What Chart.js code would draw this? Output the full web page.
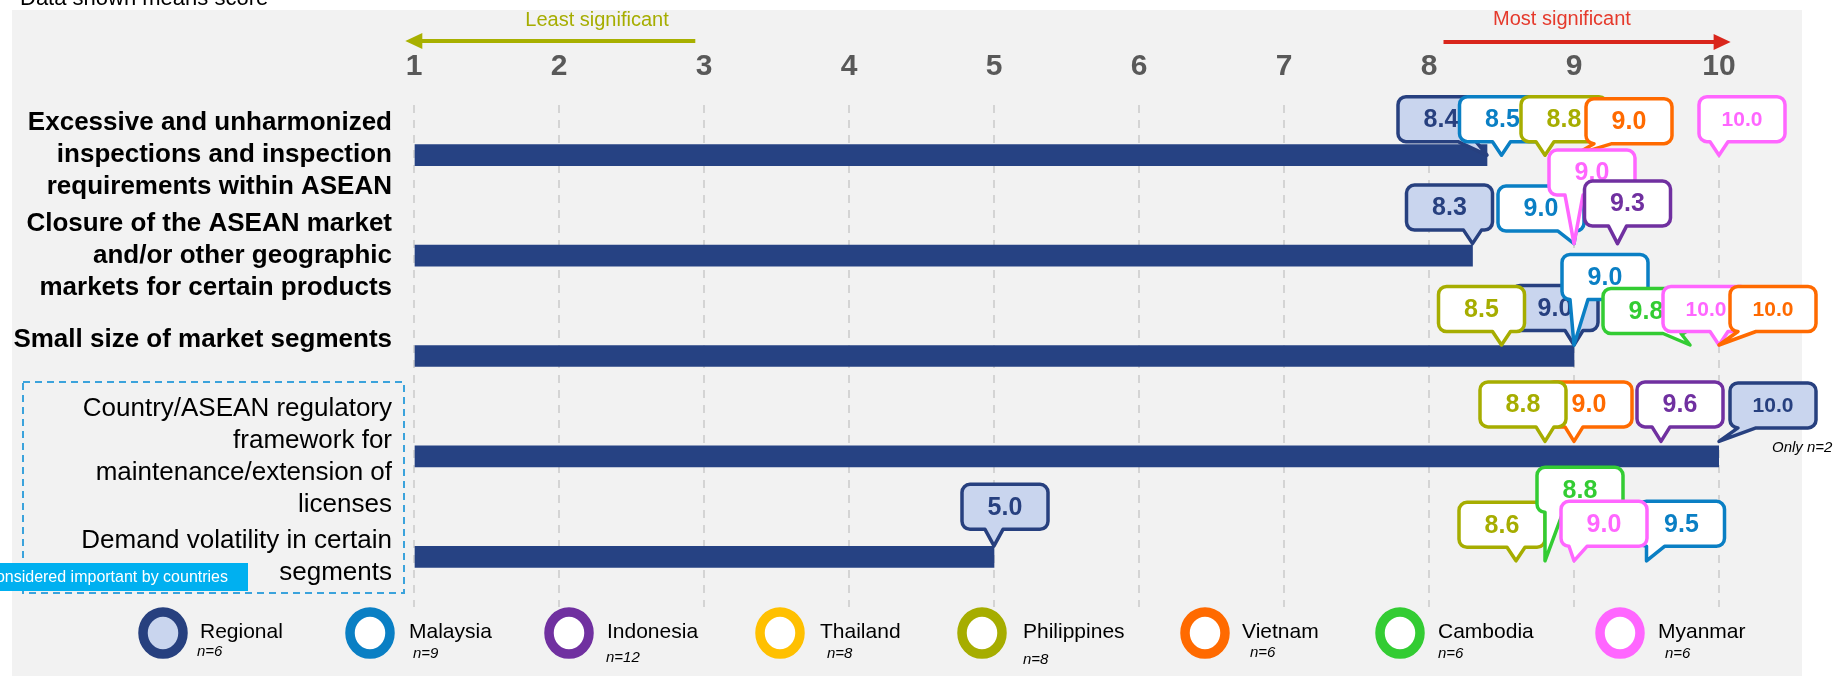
<!DOCTYPE html>
<html>
<head>
<meta charset="utf-8">
<script src="https://cdn.jsdelivr.net/npm/chart.js@4.4.0/dist/chart.umd.min.js"></script>
<style>
  html, body { margin: 0; padding: 0; background: #fff; }
  #wrap { width: 1837px; height: 676px; }
</style>
</head>
<body>
<div id="wrap"><canvas id="chart" width="1837" height="676"></canvas></div>
<script>
const FONT = '"Liberation Sans", Arial, Helvetica, sans-serif';

// categories (multi-line labels)
const categories = [
  ['Excessive and unharmonized', 'inspections and inspection', 'requirements within ASEAN'],
  ['Closure of the ASEAN market', 'and/or other geographic', 'markets for certain products'],
  ['Small size of market segments', ''],
  ['Country/ASEAN regulatory', 'framework for', 'maintenance/extension of', 'licenses'],
  ['Demand volatility in certain', 'segments']
];
const scaleTicks = [1, 2, 3, 4, 5, 6, 7, 8, 9, 10];

// mean scores per category
const regional    = [8.4, 8.3, 9.0, 10.0, 5.0];
const malaysia    = [8.5, 9.0, 9.0, null, 9.5];
const indonesia   = [null, 9.3, null, 9.6, null];
const thailand    = [null, null, null, null, null];
const philippines = [8.8, null, 8.5, 8.8, 8.6];
const vietnam     = [9.0, null, 10.0, 9.0, null];
const cambodia    = [null, null, 9.8, null, 8.8];
const myanmar     = [10.0, 9.0, 10.0, null, 9.0];

const seriesNames = ['Regional', 'Malaysia', 'Indonesia', 'Thailand', 'Philippines', 'Vietnam', 'Cambodia', 'Myanmar'];
const sampleSizes = [6, 9, 12, 8, 8, 6, 6, 6];

const seriesValues = {
  Regional: regional, Malaysia: malaysia, Indonesia: indonesia, Thailand: thailand,
  Philippines: philippines, Vietnam: vietnam, Cambodia: cambodia, Myanmar: myanmar
};
const seriesColors = {
  Regional: '#27407f', Malaysia: '#0a7fc4', Indonesia: '#7030a0', Thailand: '#ffc000',
  Philippines: '#a6ad00', Vietnam: '#ff6a00', Cambodia: '#33cc33', Myanmar: '#ff66ff'
};

// callout placement: series, category, box offset from tip (dx, dy), tip offset from row centre
const calloutLayout = [
  ['Regional', 0, -46, -36, 0],
  ['Malaysia', 0, 1, -36, 0],
  ['Philippines', 0, 19, -36, 0],
  ['Vietnam', 0, 55, -34, 0],
  ['Myanmar', 0, 23, -36, 0],
  ['Regional', 1, -23, -36, -12],
  ['Malaysia', 1, -33, -35, -12],
  ['Myanmar', 1, 18, -71, -12],
  ['Indonesia', 1, 10, -40, -12],
  ['Regional', 2, -19, -37, -11],
  ['Philippines', 2, -20, -36, -11],
  ['Malaysia', 2, 31, -68, -11],
  ['Cambodia', 2, -44, -34, -11],
  ['Myanmar', 2, -13, -36, -11],
  ['Vietnam', 2, 54, -36, -11],
  ['Vietnam', 3, 15, -37, -15],
  ['Philippines', 3, -22, -37, -15],
  ['Indonesia', 3, 19, -37, -15],
  ['Regional', 3, 54, -36, -15],
  ['Regional', 4, 11, -39, -11],
  ['Philippines', 4, -14, -36, 4],
  ['Cambodia', 4, 35, -71, 4],
  ['Malaysia', 4, 35, -37, 4],
  ['Myanmar', 4, 30, -37, 4]
];

// legend placement: ring centre x, label x, n-label x, n-label y
const legendLayout = [
  [163, 200, 197, 652], [370, 409, 413, 654], [569, 607, 606, 658], [780, 820, 827, 654],
  [982, 1023, 1023, 660], [1205, 1242, 1250, 653], [1400, 1438, 1438, 654], [1620, 1658, 1665, 654]
];

function callout(c, tipX, tipY, cx, cy, color, fill, text) {
  const w = 86, h = 45, r = 8, hw = 9;
  const L = cx - w / 2, R = cx + w / 2, T = cy - h / 2, B = cy + h / 2;
  const bx = Math.min(Math.max(tipX, L + r + hw), R - r - hw);
  c.beginPath();
  c.moveTo(L + r, T);
  c.lineTo(R - r, T);
  c.arcTo(R, T, R, T + r, r);
  c.lineTo(R, B - r);
  c.arcTo(R, B, R - r, B, r);
  c.lineTo(bx + hw, B);
  c.lineTo(tipX, tipY);
  c.lineTo(bx - hw, B);
  c.lineTo(L + r, B);
  c.arcTo(L, B, L, B - r, r);
  c.lineTo(L, T + r);
  c.arcTo(L, T, L + r, T, r);
  c.closePath();
  c.fillStyle = fill;
  c.fill();
  c.lineWidth = 3.5;
  c.lineJoin = 'round';
  c.strokeStyle = color;
  c.stroke();
  c.fillStyle = color;
  c.font = 'bold ' + (text.length > 3 ? 21 : 25) + 'px ' + FONT;
  c.textAlign = 'center';
  c.textBaseline = 'middle';
  c.fillText(text, cx, cy + 1);
}

function arrow(c, x0, x1, y, color) {
  const dir = Math.sign(x1 - x0);
  c.strokeStyle = color;
  c.fillStyle = color;
  c.lineWidth = 4;
  c.beginPath();
  c.moveTo(x0, y);
  c.lineTo(x1 - dir * 14, y);
  c.stroke();
  c.beginPath();
  c.moveTo(x1, y);
  c.lineTo(x1 - dir * 17, y - 8);
  c.lineTo(x1 - dir * 17, y + 8);
  c.closePath();
  c.fill();
}

const decor = {
  id: 'decor',
  beforeDraw(chart) {
    const c = chart.ctx;
    const xs = chart.scales.x;
    c.save();
    c.fillStyle = '#ffffff';
    c.fillRect(0, 0, chart.width, chart.height);
    c.fillStyle = '#f2f2f2';
    c.fillRect(12, 10, 1790, 666);

    c.fillStyle = '#000';
    c.font = '22px ' + FONT;
    c.textAlign = 'left';
    c.textBaseline = 'alphabetic';
    c.fillText('Data shown means score', 20, 5);

    // significance arrows
    c.font = '20px ' + FONT;
    c.textAlign = 'center';
    c.textBaseline = 'middle';
    c.fillStyle = '#a6ad00';
    c.fillText('Least significant', 597, 20);
    arrow(c, xs.getPixelForValue(2.94), xs.getPixelForValue(0.94), 41, '#a8b000');
    c.fillStyle = '#e5392b';
    c.fillText('Most significant', 1562, 19);
    arrow(c, xs.getPixelForValue(8.1), xs.getPixelForValue(10.08), 42, '#d9261c');

    // dashed box around the country-level topics
    c.setLineDash([7, 5]);
    c.lineWidth = 2;
    c.strokeStyle = '#3ba3dc';
    c.strokeRect(23, 382, 381, 211);
    c.setLineDash([]);
    c.fillStyle = '#00b0f0';
    c.fillRect(0, 563, 248, 28);
    c.fillStyle = '#ffffff';
    c.font = '16px ' + FONT;
    c.textAlign = 'right';
    c.fillText('considered important by countries', 228, 578);
    c.restore();
  },
  afterDatasetsDraw(chart) {
    const c = chart.ctx;
    const xs = chart.scales.x, ys = chart.scales.y;
    c.save();
    calloutLayout.forEach(([name, cat, dx, dy, tipDy]) => {
      const v = seriesValues[name][cat];
      if (v == null) return;
      const tx = xs.getPixelForValue(v);
      const ty = ys.getPixelForValue(cat) + tipDy;
      const fill = name === 'Regional' ? '#c9d5ee' : '#ffffff';
      callout(c, tx, ty, tx + dx, ty + dy, seriesColors[name], fill, v.toFixed(1));
    });
    // note next to the regional 10.0
    c.fillStyle = '#000';
    c.font = 'italic 15px ' + FONT;
    c.textAlign = 'left';
    c.textBaseline = 'middle';
    c.fillText('Only n=2', 1772, 448);
    c.restore();
  },
  afterDraw(chart) {
    const c = chart.ctx;
    c.save();
    seriesNames.forEach((name, i) => {
      const [rx, lx, nx, ny] = legendLayout[i];
      c.beginPath();
      c.ellipse(rx, 633, 20, 21, 0, 0, Math.PI * 2);
      c.fillStyle = name === 'Regional' ? '#c9d5ee' : '#ffffff';
      c.fill();
      c.lineWidth = 9.5;
      c.strokeStyle = seriesColors[name];
      c.stroke();
      c.fillStyle = '#000';
      c.textAlign = 'left';
      c.textBaseline = 'middle';
      c.font = '21px ' + FONT;
      c.fillText(name, lx, 632);
      c.font = 'italic 15px ' + FONT;
      c.fillText('n=' + sampleSizes[i], nx, ny);
    });
    c.restore();
  }
};

new Chart(document.getElementById('chart'), {
  type: 'bar',
  data: {
    labels: categories,
    datasets: [{
      label: 'Regional',
      data: regional,
      backgroundColor: '#264283',
      barThickness: 21,
      base: 1
    }]
  },
  options: {
    indexAxis: 'y',
    responsive: false,
    animation: false,
    layout: { padding: { top: 49, right: 118, bottom: 69, left: 0 } },
    plugins: { legend: { display: false }, tooltip: { enabled: false } },
    scales: {
      x: {
        type: 'linear',
        position: 'top',
        min: 1,
        max: 10,
        afterBuildTicks: s => { s.ticks = scaleTicks.map(v => ({ value: v })); },
        afterFit: s => { s.height = 56; },
        ticks: {
          font: { size: 30, weight: 'bold', family: FONT },
          color: '#595959',
          padding: 20,
          maxRotation: 0,
          autoSkip: false
        },
        grid: { color: '#d4d4d4', lineWidth: 2, drawTicks: false },
        border: { display: false, dash: [8, 7] }
      },
      y: {
        afterFit: s => { s.width = 414; },
        ticks: {
          font: ctx => ({ size: 26, weight: ctx.index < 3 ? 'bold' : 'normal', family: FONT, lineHeight: 1.23 }),
          color: '#000',
          padding: 14,
          autoSkip: false
        },
        grid: { display: false },
        border: { display: false }
      }
    }
  },
  plugins: [decor]
});
</script>
</body>
</html>
